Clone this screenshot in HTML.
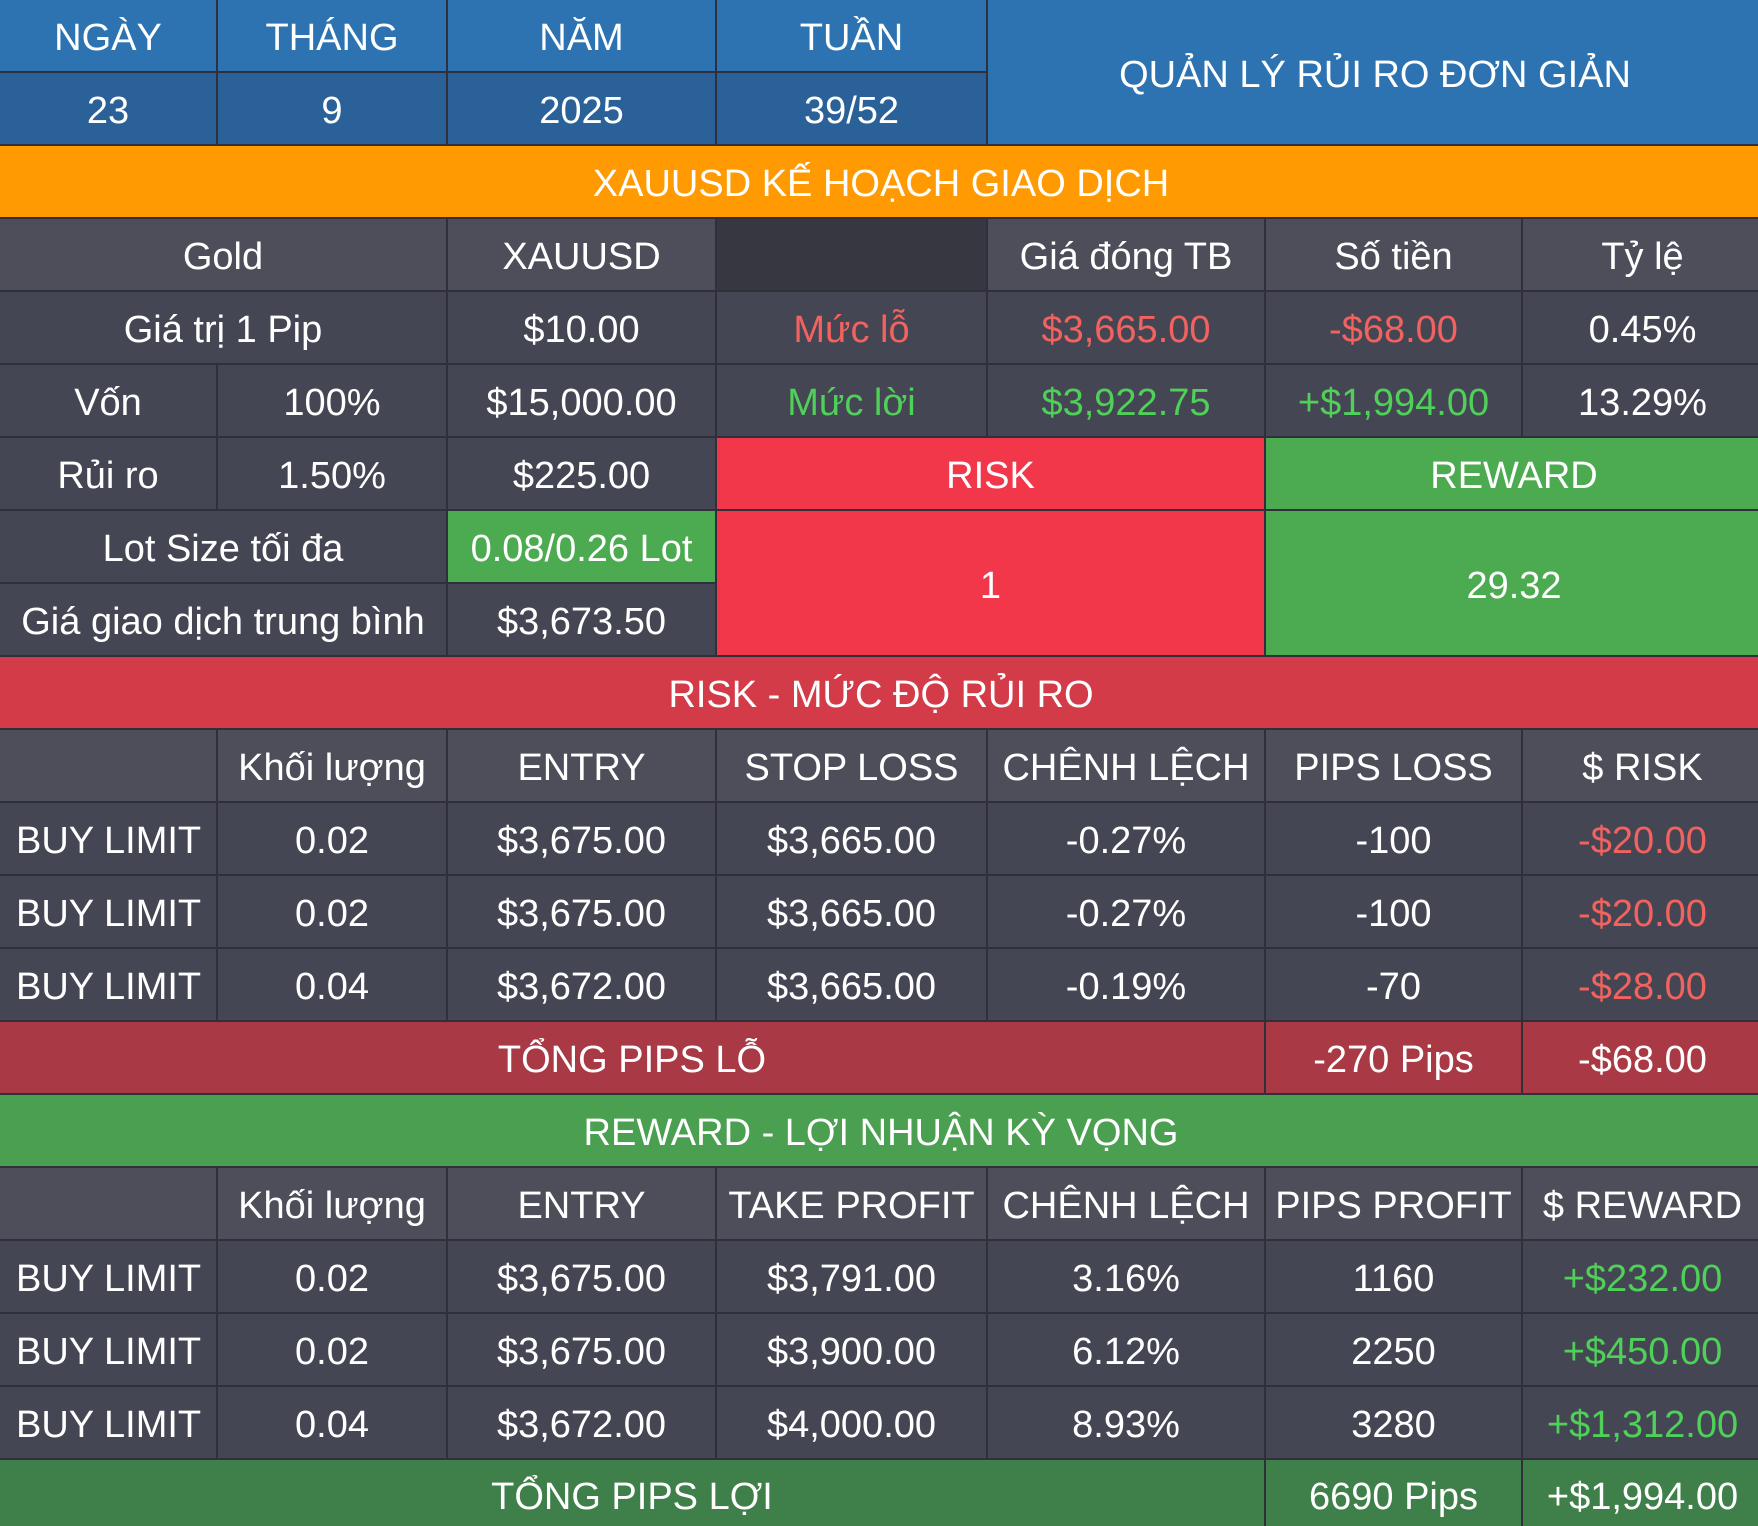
<!DOCTYPE html>
<html><head><meta charset="utf-8"><style>
html,body{margin:0;padding:0;background:#2f3039;}
#g{width:1758px;height:1526px;overflow:hidden;display:grid;
grid-template-columns:216px 228px 267px 269px 276px 255px 239px;
grid-template-rows:repeat(20,71px) 66px;gap:2px;background:#2f3039;
font-family:"Liberation Sans","DejaVu Sans",sans-serif;font-size:38px;color:#fff;}
#g>div{display:flex;align-items:center;justify-content:center;background:#454653;white-space:nowrap;overflow:hidden;padding-top:6px;box-sizing:border-box}
.h{background:#4d4e5a!important}
.b1{background:#2d73b1!important}.b2{background:#2b6199!important}
.o{background:#ff9a02!important}
.dk{background:#363741!important}
.R{background:#f2374a!important}.G{background:#4caa50!important}
.rb{background:#d43b48!important}.rt{background:#a93a45!important}
.gb{background:#4b9f50!important}.gt{background:#3f7f4a!important}
.rtx{color:#f2625f}.gtx{color:#4fd058}
.l{justify-content:flex-start!important;padding-left:16px}
</style></head><body><div id="g">
<div class="b1" style="grid-column:1;grid-row:1">NGÀY</div>
<div class="b1" style="grid-column:2;grid-row:1">THÁNG</div>
<div class="b1" style="grid-column:3;grid-row:1">NĂM</div>
<div class="b1" style="grid-column:4;grid-row:1">TUẦN</div>
<div class="b1" style="grid-column:5/8;grid-row:1/3">QUẢN LÝ RỦI RO ĐƠN GIẢN</div>
<div class="b2" style="grid-column:1;grid-row:2">23</div>
<div class="b2" style="grid-column:2;grid-row:2">9</div>
<div class="b2" style="grid-column:3;grid-row:2">2025</div>
<div class="b2" style="grid-column:4;grid-row:2">39/52</div>
<div class="o" style="grid-column:1/8;grid-row:3">XAUUSD KẾ HOẠCH GIAO DỊCH</div>
<div class="h" style="grid-column:1/3;grid-row:4">Gold</div>
<div class="h" style="grid-column:3;grid-row:4">XAUUSD</div>
<div class="dk" style="grid-column:4;grid-row:4"></div>
<div class="h" style="grid-column:5;grid-row:4">Giá đóng TB</div>
<div class="h" style="grid-column:6;grid-row:4">Số tiền</div>
<div class="h" style="grid-column:7;grid-row:4">Tỷ lệ</div>
<div style="grid-column:1/3;grid-row:5">Giá trị 1 Pip</div>
<div style="grid-column:3;grid-row:5">$10.00</div>
<div class="rtx" style="grid-column:4;grid-row:5">Mức lỗ</div>
<div class="rtx" style="grid-column:5;grid-row:5">$3,665.00</div>
<div class="rtx" style="grid-column:6;grid-row:5">-$68.00</div>
<div style="grid-column:7;grid-row:5">0.45%</div>
<div style="grid-column:1;grid-row:6">Vốn</div>
<div style="grid-column:2;grid-row:6">100%</div>
<div style="grid-column:3;grid-row:6">$15,000.00</div>
<div class="gtx" style="grid-column:4;grid-row:6">Mức lời</div>
<div class="gtx" style="grid-column:5;grid-row:6">$3,922.75</div>
<div class="gtx" style="grid-column:6;grid-row:6">+$1,994.00</div>
<div style="grid-column:7;grid-row:6">13.29%</div>
<div style="grid-column:1;grid-row:7">Rủi ro</div>
<div style="grid-column:2;grid-row:7">1.50%</div>
<div style="grid-column:3;grid-row:7">$225.00</div>
<div class="R" style="grid-column:4/6;grid-row:7">RISK</div>
<div class="G" style="grid-column:6/8;grid-row:7">REWARD</div>
<div style="grid-column:1/3;grid-row:8">Lot Size tối đa</div>
<div class="G" style="grid-column:3;grid-row:8">0.08/0.26 Lot</div>
<div class="R" style="grid-column:4/6;grid-row:8/10">1</div>
<div class="G" style="grid-column:6/8;grid-row:8/10">29.32</div>
<div style="grid-column:1/3;grid-row:9">Giá giao dịch trung bình</div>
<div style="grid-column:3;grid-row:9">$3,673.50</div>
<div class="rb" style="grid-column:1/8;grid-row:10">RISK - MỨC ĐỘ RỦI RO</div>
<div class="h" style="grid-column:1;grid-row:11"></div>
<div class="h" style="grid-column:2;grid-row:11">Khối lượng</div>
<div class="h" style="grid-column:3;grid-row:11">ENTRY</div>
<div class="h" style="grid-column:4;grid-row:11">STOP LOSS</div>
<div class="h" style="grid-column:5;grid-row:11">CHÊNH LỆCH</div>
<div class="h" style="grid-column:6;grid-row:11">PIPS LOSS</div>
<div class="h" style="grid-column:7;grid-row:11">$ RISK</div>
<div class="l" style="grid-column:1;grid-row:12">BUY LIMIT</div><div style="grid-column:2;grid-row:12">0.02</div><div style="grid-column:3;grid-row:12">$3,675.00</div><div style="grid-column:4;grid-row:12">$3,665.00</div><div style="grid-column:5;grid-row:12">-0.27%</div><div style="grid-column:6;grid-row:12">-100</div><div class="rtx" style="grid-column:7;grid-row:12">-$20.00</div>
<div class="l" style="grid-column:1;grid-row:13">BUY LIMIT</div><div style="grid-column:2;grid-row:13">0.02</div><div style="grid-column:3;grid-row:13">$3,675.00</div><div style="grid-column:4;grid-row:13">$3,665.00</div><div style="grid-column:5;grid-row:13">-0.27%</div><div style="grid-column:6;grid-row:13">-100</div><div class="rtx" style="grid-column:7;grid-row:13">-$20.00</div>
<div class="l" style="grid-column:1;grid-row:14">BUY LIMIT</div><div style="grid-column:2;grid-row:14">0.04</div><div style="grid-column:3;grid-row:14">$3,672.00</div><div style="grid-column:4;grid-row:14">$3,665.00</div><div style="grid-column:5;grid-row:14">-0.19%</div><div style="grid-column:6;grid-row:14">-70</div><div class="rtx" style="grid-column:7;grid-row:14">-$28.00</div>
<div class="rt" style="grid-column:1/6;grid-row:15">TỔNG PIPS LỖ</div>
<div class="rt" style="grid-column:6;grid-row:15">-270 Pips</div>
<div class="rt" style="grid-column:7;grid-row:15">-$68.00</div>
<div class="gb" style="grid-column:1/8;grid-row:16">REWARD - LỢI NHUẬN KỲ VỌNG</div>
<div class="h" style="grid-column:1;grid-row:17"></div>
<div class="h" style="grid-column:2;grid-row:17">Khối lượng</div>
<div class="h" style="grid-column:3;grid-row:17">ENTRY</div>
<div class="h" style="grid-column:4;grid-row:17">TAKE PROFIT</div>
<div class="h" style="grid-column:5;grid-row:17">CHÊNH LỆCH</div>
<div class="h" style="grid-column:6;grid-row:17">PIPS PROFIT</div>
<div class="h" style="grid-column:7;grid-row:17">$ REWARD</div>
<div class="l" style="grid-column:1;grid-row:18">BUY LIMIT</div><div style="grid-column:2;grid-row:18">0.02</div><div style="grid-column:3;grid-row:18">$3,675.00</div><div style="grid-column:4;grid-row:18">$3,791.00</div><div style="grid-column:5;grid-row:18">3.16%</div><div style="grid-column:6;grid-row:18">1160</div><div class="gtx" style="grid-column:7;grid-row:18">+$232.00</div>
<div class="l" style="grid-column:1;grid-row:19">BUY LIMIT</div><div style="grid-column:2;grid-row:19">0.02</div><div style="grid-column:3;grid-row:19">$3,675.00</div><div style="grid-column:4;grid-row:19">$3,900.00</div><div style="grid-column:5;grid-row:19">6.12%</div><div style="grid-column:6;grid-row:19">2250</div><div class="gtx" style="grid-column:7;grid-row:19">+$450.00</div>
<div class="l" style="grid-column:1;grid-row:20">BUY LIMIT</div><div style="grid-column:2;grid-row:20">0.04</div><div style="grid-column:3;grid-row:20">$3,672.00</div><div style="grid-column:4;grid-row:20">$4,000.00</div><div style="grid-column:5;grid-row:20">8.93%</div><div style="grid-column:6;grid-row:20">3280</div><div class="gtx" style="grid-column:7;grid-row:20">+$1,312.00</div>
<div class="gt" style="grid-column:1/6;grid-row:21;align-items:flex-start;padding-top:16px">TỔNG PIPS LỢI</div>
<div class="gt" style="grid-column:6;grid-row:21;align-items:flex-start;padding-top:16px">6690 Pips</div>
<div class="gt" style="grid-column:7;grid-row:21;align-items:flex-start;padding-top:16px">+$1,994.00</div>
</div></body></html>
